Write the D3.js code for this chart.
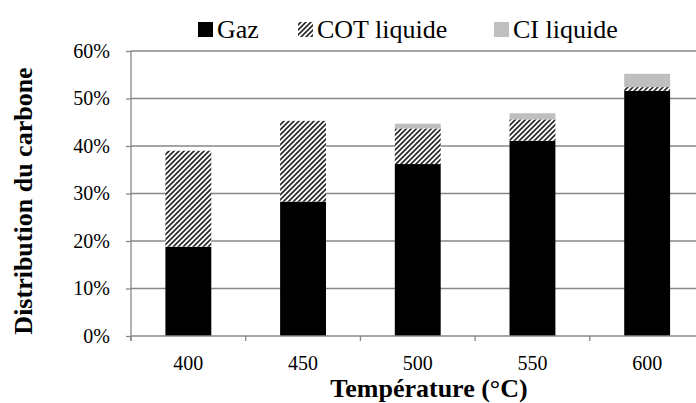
<!DOCTYPE html>
<html>
<head>
<meta charset="utf-8">
<script src="https://cdn.jsdelivr.net/npm/d3@7"></script>
<style>
  html, body { margin: 0; padding: 0; background: #fff; }
  svg { display: block; }
  svg text { font-family: "Liberation Serif", "Times New Roman", serif !important; }
</style>
</head>
<body>
<svg id="chart" width="696" height="403"></svg>
<script>
// Carbon distribution (%) by reactor temperature
const temperatures = ["400", "450", "500", "550", "600"];
const gaz = [18.8, 28.3, 36.2, 41.1, 51.6];
const cotLiquide = [20.2, 17.0, 7.5, 4.5, 0.8];
const ciLiquide = [0, 0, 1.0, 1.3, 2.8];
const seriesNames = ["Gaz", "COT liquide", "CI liquide"];
const yTicks = [0, 10, 20, 30, 40, 50, 60];

const svg = d3.select("#chart");
const W = 696, H = 403;
const margin = { left: 131, top: 51, bottom: 67 };
const plotW = 573.5;
const plotH = H - margin.top - margin.bottom;

const defs = svg.append("defs");
const hatch = defs.append("pattern")
  .attr("id", "hatch")
  .attr("patternUnits", "userSpaceOnUse")
  .attr("width", 5).attr("height", 5);
hatch.append("rect").attr("width", 5).attr("height", 5).attr("fill", "#fff");
hatch.append("path")
  .attr("d", "M-1,1 l2,-2 M0,5 l5,-5 M4,6 l2,-2")
  .attr("stroke", "#2a2a2a").attr("stroke-width", 1.7);

const x = d3.scaleBand().domain(temperatures)
  .range([margin.left, margin.left + plotW]).paddingInner(0.6).paddingOuter(0.3);
const y = d3.scaleLinear().domain([0, 60]).range([margin.top + plotH, margin.top]);

const axisColor = "#878787";

// horizontal gridlines
svg.append("g").selectAll("line").data(yTicks.slice(1)).join("line")
  .attr("x1", margin.left).attr("x2", margin.left + plotW)
  .attr("y1", d => y(d)).attr("y2", d => y(d))
  .attr("stroke", axisColor).attr("stroke-width", 1.3);

// stacked bars
const rows = temperatures.map((t, i) => ({ t, Gaz: gaz[i], "COT liquide": cotLiquide[i], "CI liquide": ciLiquide[i] }));
const stacked = d3.stack().keys(seriesNames)(rows);
const fills = { "Gaz": "#000", "COT liquide": "url(#hatch)", "CI liquide": "#bfbfbf" };

svg.append("g").selectAll("g").data(stacked).join("g")
  .attr("fill", d => fills[d.key])
  .selectAll("rect").data(d => d.filter(p => p[1] - p[0] > 0)).join("rect")
  .attr("x", d => x(d.data.t))
  .attr("width", x.bandwidth())
  .attr("y", d => y(d[1]))
  .attr("height", d => y(d[0]) - y(d[1]));

// y axis
const yAxis = svg.append("g")
  .attr("transform", `translate(${margin.left},0)`)
  .call(d3.axisLeft(y).tickValues(yTicks).tickFormat(d => d + "%").tickSize(5).tickPadding(16));
yAxis.attr("font-family", null);
yAxis.select(".domain").attr("stroke", axisColor).attr("stroke-width", 1.3)
  .attr("d", `M0,${y(60)}V${y(0) + 5}`);
yAxis.selectAll(".tick line").attr("stroke", axisColor).attr("stroke-width", 1.3);
yAxis.selectAll("text").attr("font-size", 20).attr("fill", "#000");

// x axis with ticks at category boundaries
const xAxisG = svg.append("g").attr("transform", `translate(0,${y(0)})`);
xAxisG.append("line").attr("x1", margin.left).attr("x2", margin.left + plotW)
  .attr("stroke", axisColor).attr("stroke-width", 1.3);
const step = x.step();
xAxisG.selectAll(".bt").data(d3.range(temperatures.length + 1)).join("line")
  .attr("class", "bt")
  .attr("x1", i => margin.left + i * step).attr("x2", i => margin.left + i * step)
  .attr("y1", 0).attr("y2", 5)
  .attr("stroke", axisColor).attr("stroke-width", 1.3);
xAxisG.selectAll("text").data(temperatures).join("text")
  .attr("x", d => x(d) + x.bandwidth() / 2)
  .attr("y", 34)
  .attr("text-anchor", "middle")
  .attr("font-size", 20)
  .text(d => d);

// axis titles
svg.append("text")
  .attr("x", 429).attr("y", 397)
  .attr("text-anchor", "middle").attr("font-weight", "bold").attr("font-size", 26)
  .text("Température (°C)");
svg.append("text")
  .attr("transform", "translate(32,201) rotate(-90)")
  .attr("text-anchor", "middle").attr("font-weight", "bold").attr("font-size", 26)
  .text("Distribution du carbone");

// legend
const legendX = [198, 298, 494];
const legend = svg.append("g").selectAll("g").data(seriesNames).join("g")
  .attr("transform", (d, i) => `translate(${legendX[i]},0)`);
legend.append("rect")
  .attr("x", 0).attr("y", 22).attr("width", 15).attr("height", 15)
  .attr("fill", d => fills[d]);
legend.append("text")
  .attr("x", 19).attr("y", 38)
  .attr("font-size", 26)
  .text(d => d);
</script>
</body>
</html>
